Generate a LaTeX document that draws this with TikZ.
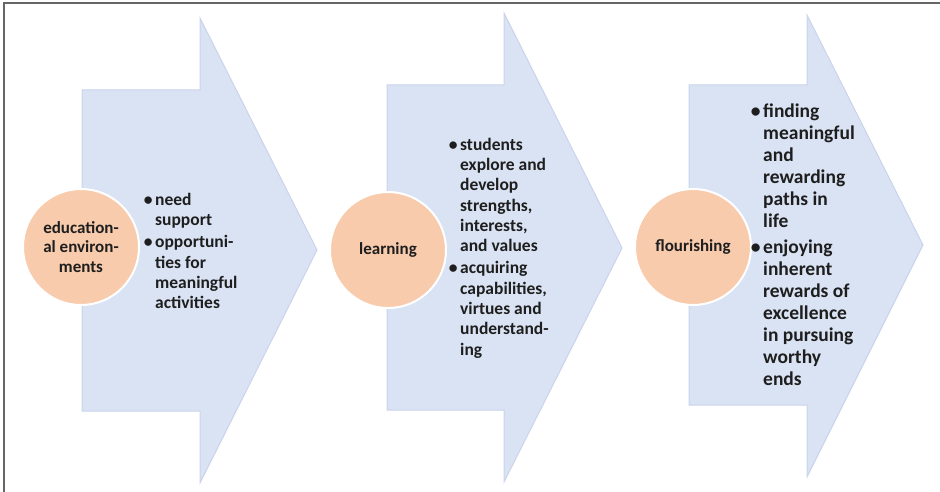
\documentclass[tikz,border=0pt]{standalone}
\usepackage{fontspec}
\setmainfont{Carlito}
\definecolor{arrowfill}{HTML}{DAE3F3}
\definecolor{arrowline}{HTML}{CAD4EA}
\definecolor{peach}{HTML}{F8CBAD}
\definecolor{ink}{HTML}{1E1E1E}
\newcommand{\bul}{\llap{\textbullet\hspace{2.5pt}}}

\begin{document}
\begin{tikzpicture}[x=1pt, y=-1pt,
		bigarrow/.style={fill=arrowfill, draw=arrowline, line width=1pt, line join=miter},
		stage/.style={circle, fill=peach, draw=white, line width=2pt, minimum size=116pt,
			inner sep=0pt, align=center, text=ink, font=\fontsize{17}{19.5}\selectfont\bfseries},
		points/.style={anchor=west, inner sep=0pt, align=left, text=ink,
			font=\fontsize{17.5}{20.3}\selectfont\bfseries}]
		\useasboundingbox (0,0) rectangle (940,492);
		% Draw frame
		\draw [gray!80!black, line width=1.5pt] (4,492) -- (4,3) -- (940,3);
		% Draw arrows
		\draw [bigarrow] (82,90) -- (200,90) -- (200,18) -- (317,250) -- (200,483) -- (200,411) -- (82,411) -- cycle;
		\draw [bigarrow] (387,85) -- (504,85) -- (504,13) -- (622,248) -- (504,482) -- (504,410) -- (387,410) -- cycle;
		\draw [bigarrow] (689,85) -- (807,85) -- (807,15) -- (923,245) -- (807,477) -- (807,405) -- (689,405) -- cycle;
		% Draw stages
		\node [stage] (env) at (81,247) {education-\\al environ-\\ments};
		\node [stage] (learn) at (388,250) {learning};
		\node [stage] (flour) at (693,247) {flourishing};
		% Draw bullet points
		\node [points] (envpts) at (155,251) {\bul need\\support\\[2pt]\bul opportuni-\\ties for\\meaningful\\activities};
		\node [points] (learnpts) at (460,248) {\bul students\\explore and\\develop\\strengths,\\interests,\\and values\\[2pt]\bul acquiring\\capabilities,\\virtues and\\understand-\\ing};
		\node [points, font=\fontsize{19.5}{22}\selectfont\bfseries] (flourpts) at (763,245) {\bul finding\\meaningful\\and\\rewarding\\paths in\\life\\[4pt]\bul enjoying\\inherent\\rewards of\\excellence\\in pursuing\\worthy\\ends};
	\end{tikzpicture}
\end{document}
